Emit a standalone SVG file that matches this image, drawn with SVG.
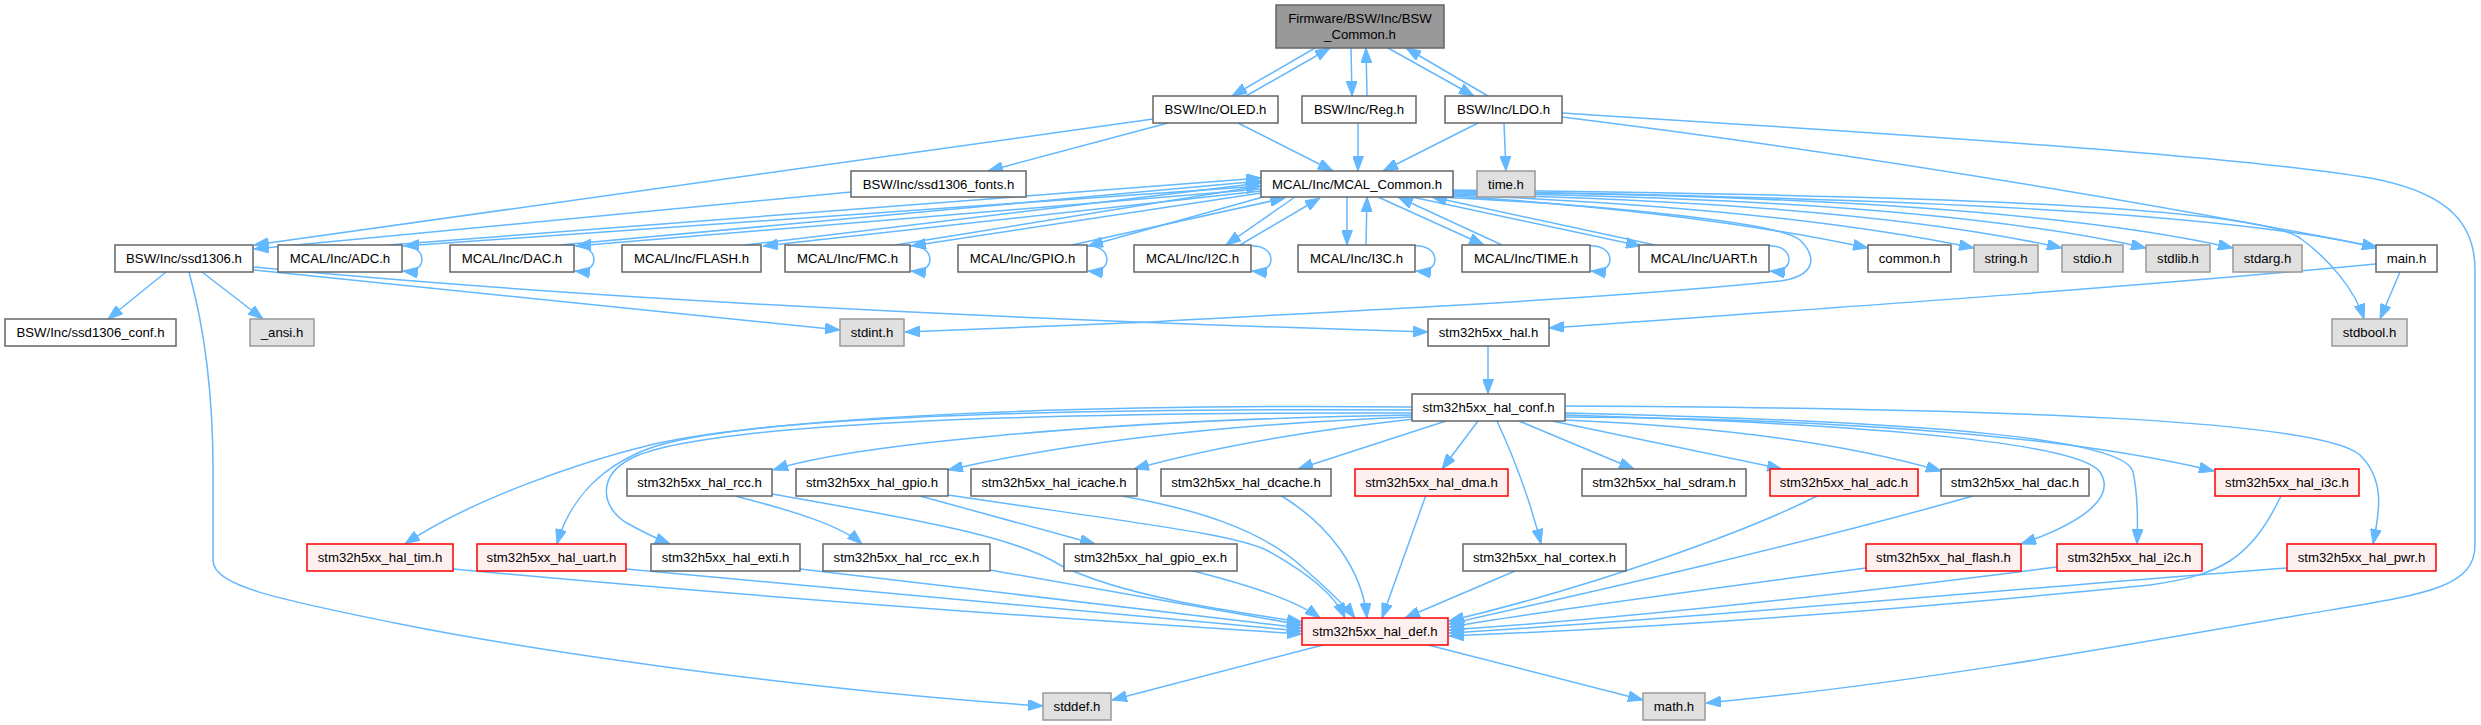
<svg xmlns="http://www.w3.org/2000/svg" width="2481" height="725" viewBox="0 0 2481 725">
<style>
text{font-family:"Liberation Sans",Arial,Helvetica,sans-serif;font-size:13.2px;text-anchor:middle;fill:#000}
.n rect{fill:#fff;stroke:#666;stroke-width:1.5}
.g rect{fill:#e0e0e0;stroke:#999;stroke-width:1.5}
.r rect{fill:#fff0f0;stroke:#f00;stroke-width:1.5}
.root rect{fill:#999;stroke:#666;stroke-width:1.5}
#edges path{fill:none;stroke:#63b8ff;stroke-width:1.5;marker-end:url(#a)}
</style>
<defs>
<marker id="a" markerUnits="userSpaceOnUse" viewBox="0 0 15 11" markerWidth="15" markerHeight="11" refX="15" refY="5.5" orient="auto"><path d="M0,0L15,5.5L0,11z" fill="#63b8ff" stroke="#63b8ff"/></marker>
</defs>
<rect width="2481" height="725" fill="#fff"/>
<g id="edges">
<path d="M1315,48 L1232,96"/>
<path d="M1246,96 L1330,48"/>
<path d="M1351,48 L1352,96"/>
<path d="M1367,96 L1366,48"/>
<path d="M1388,48 L1474,96"/>
<path d="M1488,96 L1406,48"/>
<path d="M1238,123 L1333,171"/>
<path d="M1168,123 L988,171"/>
<path d="M1153,119 L254,245"/>
<path d="M1358,123 L1358,171"/>
<path d="M1478,123 L1383,171"/>
<path d="M1504,123 L1506,171"/>
<path d="M1562,117 Q1950,165 2377,247"/>
<path d="M1562,113 C1800,128 2250,155 2380,180 C2450,195 2475,225 2475,270 L2475,545 C2475,590 2420,595 2300,615 C2100,650 1900,685 1706,703"/>
<path d="M851,192 L254,249"/>
<path d="M1261,186 L404,246"/>
<path d="M388,245 L1261,178"/>
<path d="M1261,189 L576,246"/>
<path d="M560,245 L1261,181"/>
<path d="M1261,191 L763,246"/>
<path d="M745,245 L1261,183"/>
<path d="M1261,193 L911,246"/>
<path d="M895,245 L1261,186"/>
<path d="M1263,197 L1088,246"/>
<path d="M1072,245 L1285,198"/>
<path d="M1295,197 L1226,245"/>
<path d="M1240,245 L1320,198"/>
<path d="M1347,197 L1347,245"/>
<path d="M1366,245 L1367,197"/>
<path d="M1378,197 L1484,245"/>
<path d="M1502,245 L1398,197"/>
<path d="M1412,197 L1641,246"/>
<path d="M1655,245 L1432,197"/>
<path d="M398,246 C428,242 430,274 403,271"/>
<path d="M570,246 C600,242 602,274 575,271"/>
<path d="M906,246 C936,242 938,274 911,271"/>
<path d="M1083,246 C1113,242 1115,274 1088,271"/>
<path d="M1247,246 C1277,242 1279,274 1252,271"/>
<path d="M1411,246 C1441,242 1443,274 1416,271"/>
<path d="M1586,246 C1616,242 1618,274 1591,271"/>
<path d="M1765,246 C1795,242 1797,274 1770,271"/>
<path d="M1453,196 Q1700,212 1868,248"/>
<path d="M1453,195 Q1780,208 1974,248"/>
<path d="M1453,194 Q1860,203 2062,248"/>
<path d="M1453,193 Q1930,199 2146,248"/>
<path d="M1453,192 Q2000,196 2233,248"/>
<path d="M1453,191 C1900,198 2230,212 2377,248"/>
<path d="M1453,190 C1900,195 2250,205 2300,238 C2330,260 2355,290 2364,319"/>
<path d="M1440,197 C1600,205 1780,222 1800,240 C1818,258 1815,276 1780,281 C1600,300 1300,313 1150,322 Q1000,328 905,332"/>
<path d="M166,272 L108,319"/>
<path d="M202,272 L263,319"/>
<path d="M189,272 C205,330 213,400 213,470 L213,560 C213,585 270,598 400,624 C530,650 800,690 1043,706"/>
<path d="M253,270 L840,330"/>
<path d="M253,267 Q700,310 1428,332"/>
<path d="M2400,272 L2380,319"/>
<path d="M2376,264 C2100,290 1800,310 1549,328"/>
<path d="M1488,346 L1488,394"/>
<path d="M1412,407 C1100,404 780,415 650,445 C580,462 470,500 405,544"/>
<path d="M1412,410 C1000,408 720,420 645,450 C595,470 568,505 557,544"/>
<path d="M1412,413 C1000,412 700,425 632,458 C598,475 600,505 625,522 Q648,535 670,544"/>
<path d="M1412,415 C1100,420 850,445 773,470"/>
<path d="M1412,417 C1200,425 1050,447 948,470"/>
<path d="M1414,419 Q1250,437 1134,469"/>
<path d="M1446,421 L1298,469"/>
<path d="M1478,421 L1442,469"/>
<path d="M1497,421 C1515,460 1530,500 1541,544"/>
<path d="M1519,421 L1634,469"/>
<path d="M1552,421 L1782,469"/>
<path d="M1565,420 Q1800,430 1941,471"/>
<path d="M1565,417 Q2000,420 2214,471"/>
<path d="M1565,415 C1900,425 2080,445 2100,472 C2115,495 2090,520 2021,544"/>
<path d="M1565,413 C1950,422 2125,440 2133,472 C2138,495 2138,520 2137,544"/>
<path d="M1565,406 C2000,408 2320,420 2360,455 C2385,480 2380,510 2373,544"/>
<path d="M735,496 C790,510 840,525 862,544"/>
<path d="M772,494 C950,525 1020,540 1060,565 C1120,595 1220,610 1302,622"/>
<path d="M920,496 L1095,544"/>
<path d="M948,495 C1150,525 1240,535 1270,552 C1310,575 1335,595 1345,618"/>
<path d="M1122,496 C1200,510 1260,530 1300,565 C1325,587 1345,605 1355,618"/>
<path d="M1280,495 C1330,525 1362,570 1367,618"/>
<path d="M1426,495 L1382,618"/>
<path d="M1515,571 L1405,618"/>
<path d="M1189,570 C1250,585 1295,600 1320,618"/>
<path d="M990,570 C1100,590 1200,607 1302,625"/>
<path d="M800,569 C1000,592 1150,610 1302,628"/>
<path d="M626,569 C900,595 1100,614 1302,631"/>
<path d="M453,569 C700,592 1000,615 1302,634"/>
<path d="M1817,496 C1750,530 1600,585 1449,621"/>
<path d="M1973,496 C1800,545 1600,590 1449,624"/>
<path d="M1866,568 C1700,590 1550,610 1449,627"/>
<path d="M2057,567 C1800,600 1600,620 1449,630"/>
<path d="M2287,568 C2000,590 1700,618 1449,633"/>
<path d="M2281,496 C2250,560 2220,575 2150,585 C1900,610 1650,628 1449,636"/>
<path d="M1323,645 L1112,700"/>
<path d="M1428,645 L1643,700"/>
</g>
<g id="n_root" class="root"><rect x="1276" y="5" width="168" height="43"/><text x="1360" y="23.3">Firmware/BSW/Inc/BSW</text><text x="1360" y="38.5">_Common.h</text></g>
<g id="n_oled" class="n"><rect x="1153" y="96" width="125" height="27"/><text x="1215.5" y="114.2">BSW/Inc/OLED.h</text></g>
<g id="n_reg" class="n"><rect x="1302" y="96" width="114" height="27"/><text x="1359" y="114.2">BSW/Inc/Reg.h</text></g>
<g id="n_ldo" class="n"><rect x="1445" y="96" width="117" height="27"/><text x="1503.5" y="114.2">BSW/Inc/LDO.h</text></g>
<g id="n_fonts" class="n"><rect x="851" y="171" width="175" height="26"/><text x="938.5" y="188.7">BSW/Inc/ssd1306_fonts.h</text></g>
<g id="n_mcal" class="n"><rect x="1261" y="171" width="192" height="26"/><text x="1357" y="188.7">MCAL/Inc/MCAL_Common.h</text></g>
<g id="n_time" class="g"><rect x="1477" y="171" width="58" height="26"/><text x="1506" y="188.7">time.h</text></g>
<g id="n_ssd1306" class="n"><rect x="115" y="245" width="138" height="27"/><text x="184" y="263.2">BSW/Inc/ssd1306.h</text></g>
<g id="n_adc" class="n"><rect x="278" y="245" width="124" height="27"/><text x="340" y="263.2">MCAL/Inc/ADC.h</text></g>
<g id="n_dac" class="n"><rect x="450" y="245" width="124" height="27"/><text x="512" y="263.2">MCAL/Inc/DAC.h</text></g>
<g id="n_flash" class="n"><rect x="622" y="245" width="139" height="27"/><text x="691.5" y="263.2">MCAL/Inc/FLASH.h</text></g>
<g id="n_fmc" class="n"><rect x="785" y="245" width="125" height="27"/><text x="847.5" y="263.2">MCAL/Inc/FMC.h</text></g>
<g id="n_gpio" class="n"><rect x="958" y="245" width="129" height="27"/><text x="1022.5" y="263.2">MCAL/Inc/GPIO.h</text></g>
<g id="n_i2c" class="n"><rect x="1134" y="245" width="117" height="27"/><text x="1192.5" y="263.2">MCAL/Inc/I2C.h</text></g>
<g id="n_i3c" class="n"><rect x="1298" y="245" width="117" height="27"/><text x="1356.5" y="263.2">MCAL/Inc/I3C.h</text></g>
<g id="n_timeh" class="n"><rect x="1462" y="245" width="128" height="27"/><text x="1526" y="263.2">MCAL/Inc/TIME.h</text></g>
<g id="n_uart" class="n"><rect x="1639" y="245" width="130" height="27"/><text x="1704" y="263.2">MCAL/Inc/UART.h</text></g>
<g id="n_common" class="n"><rect x="1868" y="245" width="83" height="27"/><text x="1909.5" y="263.2">common.h</text></g>
<g id="n_string" class="g"><rect x="1974" y="245" width="64" height="27"/><text x="2006" y="263.2">string.h</text></g>
<g id="n_stdio" class="g"><rect x="2062" y="245" width="61" height="27"/><text x="2092.5" y="263.2">stdio.h</text></g>
<g id="n_stdlib" class="g"><rect x="2146" y="245" width="64" height="27"/><text x="2178" y="263.2">stdlib.h</text></g>
<g id="n_stdarg" class="g"><rect x="2233" y="245" width="69" height="27"/><text x="2267.5" y="263.2">stdarg.h</text></g>
<g id="n_main" class="n"><rect x="2376" y="245" width="61" height="27"/><text x="2406.5" y="263.2">main.h</text></g>
<g id="n_conf" class="n"><rect x="5" y="319" width="171" height="27"/><text x="90.5" y="337.2">BSW/Inc/ssd1306_conf.h</text></g>
<g id="n_ansi" class="g"><rect x="250" y="319" width="64" height="27"/><text x="282" y="337.2">_ansi.h</text></g>
<g id="n_stdint" class="g"><rect x="840" y="319" width="64" height="27"/><text x="872" y="337.2">stdint.h</text></g>
<g id="n_hal" class="n"><rect x="1428" y="319" width="121" height="27"/><text x="1488.5" y="337.2">stm32h5xx_hal.h</text></g>
<g id="n_stdbool" class="g"><rect x="2332" y="319" width="75" height="27"/><text x="2369.5" y="337.2">stdbool.h</text></g>
<g id="n_halconf" class="n"><rect x="1412" y="394" width="153" height="27"/><text x="1488.5" y="412.2">stm32h5xx_hal_conf.h</text></g>
<g id="n_rcc" class="n"><rect x="627" y="469" width="145" height="27"/><text x="699.5" y="487.2">stm32h5xx_hal_rcc.h</text></g>
<g id="n_hgpio" class="n"><rect x="796" y="469" width="152" height="27"/><text x="872" y="487.2">stm32h5xx_hal_gpio.h</text></g>
<g id="n_icache" class="n"><rect x="971" y="469" width="166" height="27"/><text x="1054" y="487.2">stm32h5xx_hal_icache.h</text></g>
<g id="n_dcache" class="n"><rect x="1161" y="469" width="170" height="27"/><text x="1246" y="487.2">stm32h5xx_hal_dcache.h</text></g>
<g id="n_dma" class="r"><rect x="1355" y="469" width="153" height="27"/><text x="1431.5" y="487.2">stm32h5xx_hal_dma.h</text></g>
<g id="n_sdram" class="n"><rect x="1582" y="469" width="164" height="27"/><text x="1664" y="487.2">stm32h5xx_hal_sdram.h</text></g>
<g id="n_hadc" class="r"><rect x="1770" y="469" width="148" height="27"/><text x="1844" y="487.2">stm32h5xx_hal_adc.h</text></g>
<g id="n_hdac" class="n"><rect x="1941" y="469" width="148" height="27"/><text x="2015" y="487.2">stm32h5xx_hal_dac.h</text></g>
<g id="n_hi3c" class="r"><rect x="2215" y="469" width="144" height="27"/><text x="2287" y="487.2">stm32h5xx_hal_i3c.h</text></g>
<g id="n_tim" class="r"><rect x="307" y="544" width="146" height="27"/><text x="380" y="562.2">stm32h5xx_hal_tim.h</text></g>
<g id="n_huart" class="r"><rect x="477" y="544" width="149" height="27"/><text x="551.5" y="562.2">stm32h5xx_hal_uart.h</text></g>
<g id="n_exti" class="n"><rect x="651" y="544" width="149" height="27"/><text x="725.5" y="562.2">stm32h5xx_hal_exti.h</text></g>
<g id="n_rccex" class="n"><rect x="823" y="544" width="167" height="27"/><text x="906.5" y="562.2">stm32h5xx_hal_rcc_ex.h</text></g>
<g id="n_gpioex" class="n"><rect x="1064" y="544" width="173" height="27"/><text x="1150.5" y="562.2">stm32h5xx_hal_gpio_ex.h</text></g>
<g id="n_cortex" class="n"><rect x="1463" y="544" width="163" height="27"/><text x="1544.5" y="562.2">stm32h5xx_hal_cortex.h</text></g>
<g id="n_hflash" class="r"><rect x="1866" y="544" width="155" height="27"/><text x="1943.5" y="562.2">stm32h5xx_hal_flash.h</text></g>
<g id="n_hi2c" class="r"><rect x="2057" y="544" width="145" height="27"/><text x="2129.5" y="562.2">stm32h5xx_hal_i2c.h</text></g>
<g id="n_pwr" class="r"><rect x="2287" y="544" width="149" height="27"/><text x="2361.5" y="562.2">stm32h5xx_hal_pwr.h</text></g>
<g id="n_def" class="r"><rect x="1302" y="618" width="146" height="27"/><text x="1375" y="636.2">stm32h5xx_hal_def.h</text></g>
<g id="n_stddef" class="g"><rect x="1043" y="693" width="68" height="27"/><text x="1077" y="711.2">stddef.h</text></g>
<g id="n_math" class="g"><rect x="1643" y="693" width="62" height="27"/><text x="1674" y="711.2">math.h</text></g>
</svg>
